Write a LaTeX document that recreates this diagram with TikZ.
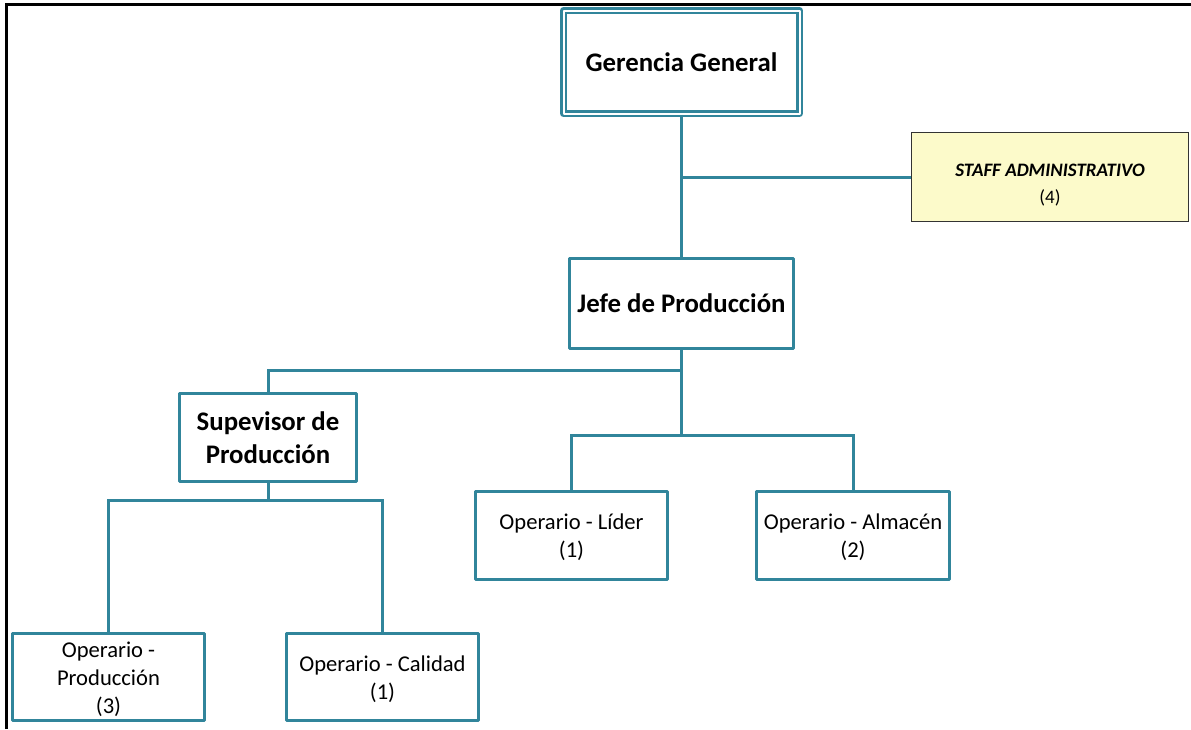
\documentclass[tikz,border=0pt]{standalone}
\usepackage{fontspec}
\setmainfont{Carlito}
\definecolor{teal1}{RGB}{49,133,155}
\definecolor{staffy}{RGB}{252,250,202}
\begin{document}
\begin{tikzpicture}[x=1pt,y=-1pt,
  box/.style={draw=teal1, line width=3pt, fill=white, inner sep=0pt, align=center, line join=round},
  bigt/.style={font=\fontsize{26.8}{33}\selectfont\bfseries},
  smallt/.style={font=\fontsize{22.6}{28}\selectfont},
  conn/.style={draw=teal1, line width=3pt}]
\useasboundingbox (0,0) rectangle (1191,729);
\draw[line width=2.5pt] (6.5,729) -- (6.5,4.5) -- (1191,4.5);
% nodes
\node[box, bigt, double=white, double distance=2pt, line width=2.5pt, minimum width=236, minimum height=103] (ger) at (681.5,62) {Gerencia General};
\node[draw=black!80, line width=1.2pt, fill=staffy, inner sep=0pt, align=center, minimum width=277, minimum height=89, font=\fontsize{19}{27}\selectfont] (staff) at (1050,177) {\rule{0pt}{28pt}\textbf{\textit{STAFF ADMINISTRATIVO}}\\(4)};
\node[box, bigt, minimum width=224, minimum height=90] (jefe) at (681.5,303.5) {Jefe de Producción};
\node[box, bigt, minimum width=177, minimum height=88] (sup) at (268,437.5) {Supevisor de\\Producción};
\node[box, smallt, minimum width=192, minimum height=88] (op1) at (571.5,535.5) {\rule{0pt}{20pt}Operario - Líder\\(1)};
\node[box, smallt, minimum width=193, minimum height=88] (op2) at (853,535.5) {\rule{0pt}{20pt}Operario - Almacén\\(2)};
\node[box, smallt, minimum width=192, minimum height=87] (op3) at (108.5,677) {\rule{0pt}{21pt}Operario -\\Producción\\(3)};
\node[box, smallt, minimum width=192, minimum height=87] (op4) at (382.5,677) {\rule{0pt}{20pt}Operario - Calidad\\(1)};
% branch points
\coordinate (b1) at (681.5,370);
\coordinate (b2) at (681.5,435);
\coordinate (b3) at (268,500);
% connectors
\draw[conn] (ger.south) -- (jefe.north);
\draw[conn] (ger.south |- staff.west) -- (staff.west);
\draw[conn] (jefe.south) -- (b2);
\draw[conn] (sup.north) |- (b1);
\draw[conn] (op1.north) |- (b2) -| (op2.north);
\draw[conn] (sup.south) -- (b3);
\draw[conn] (op3.north) |- (b3) -| (op4.north);
\end{tikzpicture}
\end{document}
